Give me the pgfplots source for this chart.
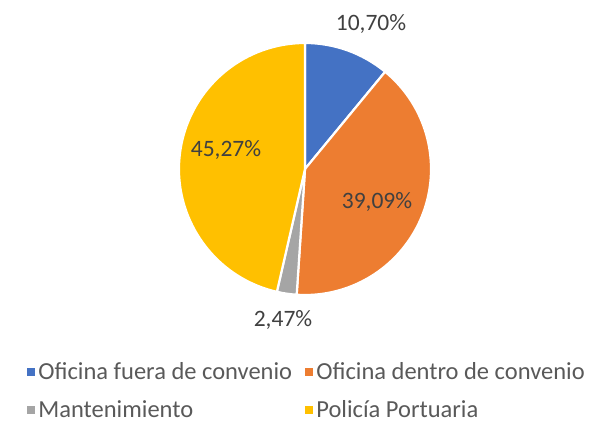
\documentclass[border=0pt]{standalone}
\usepackage{pgfplots}
\pgfplotsset{compat=1.18}
\usepackage{fontspec}
\setmainfont{Carlito}
\definecolor{pieblue}{HTML}{4472C4}
\definecolor{pieorange}{HTML}{ED7D31}
\definecolor{piegray}{HTML}{A5A5A5}
\definecolor{pieyellow}{HTML}{FFC000}
\definecolor{txt}{HTML}{404040}
\definecolor{legtxt}{HTML}{595959}
% slice values (percent)
\def\vA{10.70}\def\vB{39.09}\def\vC{2.47}\def\vD{45.27}
\begin{document}
\begin{tikzpicture}
\pgfmathsetmacro\tot{\vA+\vB+\vC+\vD}
\pgfmathsetmacro\aA{90}
\pgfmathsetmacro\aB{90-\vA/\tot*360}
\pgfmathsetmacro\aC{90-(\vA+\vB)/\tot*360}
\pgfmathsetmacro\aD{90-(\vA+\vB+\vC)/\tot*360}
\pgfmathsetmacro\aE{90-360}
\begin{axis}[hide axis, scale only axis, width=601pt, height=428pt,
  xmin=0, xmax=601, ymin=0, ymax=428, clip=false,
  legend columns=2,
  legend style={draw=none, fill=none, at={(axis cs:24,70)}, anchor=north west,
    font=\fontsize{24.5}{28}\selectfont, text=legtxt,
    /tikz/every odd column/.append style={column sep=2pt},
    /tikz/every even column/.append style={column sep=11pt},
    row sep=16pt},
  legend cell align=left,
]
\path (axis cs:0,0) rectangle (axis cs:601,428);
\addlegendimage{only marks, mark=square*, mark size=3.6pt, color=pieblue}
\addlegendentry{Oficina fuera de convenio}
\addlegendimage{only marks, mark=square*, mark size=3.6pt, color=pieorange}
\addlegendentry{Oficina dentro de convenio}
\addlegendimage{only marks, mark=square*, mark size=3.6pt, color=piegray}
\addlegendentry{Mantenimiento}
\addlegendimage{only marks, mark=square*, mark size=3.6pt, color=pieyellow}
\addlegendentry{Policía Portuaria}
\fill[pieblue, draw=white, line width=2.2pt] (axis cs:305,259) -- ++(\aA:126pt) arc[start angle=\aA, end angle=\aB, radius=126pt] -- cycle;
\fill[pieorange, draw=white, line width=2.2pt] (axis cs:305,259) -- ++(\aB:126pt) arc[start angle=\aB, end angle=\aC, radius=126pt] -- cycle;
\fill[piegray, draw=white, line width=2.2pt] (axis cs:305,259) -- ++(\aC:126pt) arc[start angle=\aC, end angle=\aD, radius=126pt] -- cycle;
\fill[pieyellow, draw=white, line width=2.2pt] (axis cs:305,259) -- ++(\aD:126pt) arc[start angle=\aD, end angle=\aE, radius=126pt] -- cycle;
\node[text=txt, font=\fontsize{23.5}{26}\selectfont] at (axis cs:371,404) {10,70\%};
\node[text=txt, font=\fontsize{23.5}{26}\selectfont] at (axis cs:377,226) {39,09\%};
\node[text=txt, font=\fontsize{23.5}{26}\selectfont] at (axis cs:226,278) {45,27\%};
\node[text=txt, font=\fontsize{23.5}{26}\selectfont] at (axis cs:283,108) {2,47\%};
\end{axis}
\end{tikzpicture}
\end{document}
